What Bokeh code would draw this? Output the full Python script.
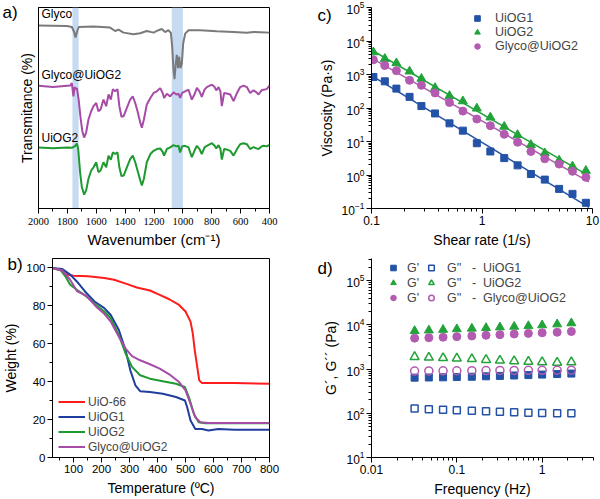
import numpy as np
from bokeh.plotting import figure
from bokeh.layouts import column, row
from bokeh.models import (Range1d, FixedTicker, BoxAnnotation, Label, Legend,
                          LegendItem, CustomJSTickFormatter, Title)
from bokeh.embed import file_html
from bokeh.resources import INLINE

FONT = "Liberation Sans"
NARROW = "Liberation Sans Narrow"

# ---------------- (a) FTIR spectra ----------------
glyco_wn = [2000, 1804, 1769, 1753, 1744, 1734, 1721, 1619, 1504, 1469, 1446, 1411,
            1342, 1296, 1250, 1203, 1169, 1146, 1123, 1100, 1083, 1074, 1065, 1058,
            1049, 1042, 1033, 1026, 1016, 1007, 998, 984, 961, 880, 765, 649, 557,
            511, 465, 400]
glyco_t = [91.1, 90.8, 90.3, 87.8, 85.1, 87.8, 90.3, 90.6, 90.0, 88.3, 89.0, 87.5,
           86.7, 87.2, 88.3, 87.5, 88.7, 89.3, 87.8, 88.7, 87.4, 80.5, 69.0, 64.4,
           72.2, 76.4, 69.8, 75.5, 69.8, 72.2, 82.1, 87.0, 88.7, 88.7, 88.2, 87.8,
           87.4, 87.8, 87.7, 87.5]

uiog2_wn = [2000, 1900, 1800, 1769, 1745, 1734, 1725, 1712, 1700, 1684, 1670, 1654,
            1635, 1619, 1600, 1585, 1570, 1550, 1531, 1515, 1499, 1485, 1469, 1453,
            1440, 1425, 1410, 1388, 1365, 1347, 1330, 1314, 1295, 1284, 1270, 1250,
            1225, 1203, 1180, 1157, 1140, 1130, 1111, 1088, 1065, 1045, 1030, 1019,
            1005, 985, 961, 938, 920, 903, 885, 869, 850, 834, 799, 780, 769, 753,
            740, 730, 714, 690, 672, 649, 625, 603, 580, 557, 534, 511, 490, 476,
            455, 441, 420, 400]
uiog2_t = [30.4, 30.0, 30.4, 30.2, 31.2, 32.3, 29.6, 18.1, 10.7, 6.9, 9.0, 14.8,
           18.9, 20.5, 23.0, 18.1, 18.9, 23.0, 20.5, 26.3, 24.3, 27.9, 27.1, 27.9,
           20.5, 16.1, 16.4, 20.5, 24.6, 26.3, 23.0, 18.9, 14.0, 11.5, 14.8, 23.0,
           27.1, 28.7, 29.6, 29.9, 28.2, 26.3, 29.6, 30.4, 31.5, 30.9, 31.2, 27.9,
           30.9, 31.2, 30.4, 25.5, 28.7, 31.2, 29.6, 27.1, 30.4, 31.2, 32.5, 31.2,
           29.9, 31.5, 29.6, 24.3, 29.6, 29.2, 28.7, 26.3, 29.6, 32.0, 32.5, 32.0,
           29.6, 30.5, 29.9, 29.6, 30.9, 31.2, 30.9, 31.7]

glyco_uiog2_wn = [2000, 1900, 1800, 1780, 1769, 1758, 1750, 1740, 1734, 1722, 1710,
                  1697, 1684, 1670, 1654, 1635, 1619, 1600, 1585, 1570, 1550, 1531,
                  1515, 1499, 1485, 1469, 1453, 1440, 1425, 1410, 1388, 1365, 1347,
                  1330, 1314, 1295, 1284, 1270, 1250, 1225, 1203, 1180, 1157, 1140,
                  1130, 1111, 1088, 1065, 1045, 1030, 1019, 1005, 985, 961, 938, 920,
                  903, 885, 869, 850, 834, 799, 780, 769, 753, 740, 730, 714, 690,
                  672, 649, 625, 603, 580, 557, 534, 511, 490, 476, 455, 441, 420, 400]
glyco_uiog2_t = [61.1, 60.4, 61.1, 61.2, 62.4, 55.8, 60.4, 59.4, 59.9, 54.2, 46.0,
                 38.6, 35.3, 37.8, 44.3, 48.4, 50.9, 52.5, 48.4, 49.3, 54.2, 50.9,
                 56.7, 54.2, 59.4, 58.3, 59.4, 50.9, 45.6, 46.0, 50.1, 54.2, 55.8,
                 52.5, 48.4, 42.7, 40.2, 44.3, 51.7, 55.0, 57.5, 58.3, 59.9, 57.5,
                 55.0, 57.1, 55.8, 57.8, 56.7, 57.1, 55.0, 57.5, 58.3, 59.1, 54.2, 56.7,
                 60.0, 58.3, 55.5, 59.1, 60.4, 61.6, 60.4, 58.8, 60.4, 58.3, 50.9, 57.5,
                 57.1, 56.7, 53.4, 57.5, 60.4, 61.1, 60.4, 57.5, 58.8, 57.8, 56.7, 58.8,
                 59.1, 59.4, 61.1]

highlight_bands = [(1765, 1722), (1077, 1000)]

# ---------------- (b) TGA ----------------
tga_uio66_T = [25, 54, 77, 100, 152, 210, 245, 292, 326, 373, 408, 442, 477, 500, 518,
               526, 533, 541, 549, 559, 675, 800]
tga_uio66_w = [100, 98.8, 96.5, 95.9, 95.6, 94.7, 93.8, 91.5, 89.7, 88.1, 85.8, 83.5,
               80.5, 77.0, 71.7, 65.5, 56.6, 48.7, 40.7, 39.3, 39.3, 38.9]
tga_uiog1_T = [25, 59, 88, 112, 141, 175, 210, 233, 262, 286, 303, 321, 338, 373, 419,
               466, 498, 506, 518, 535, 559, 582, 617, 675, 800]
tga_uiog1_w = [100, 99.5, 96.5, 92.9, 87.6, 82.3, 78.8, 75.2, 67.3, 56.6, 46.0, 38.1,
               35.0, 34.5, 33.6, 31.9, 30.1, 26.5, 19.5, 15.0, 15.0, 14.2, 15.0, 14.7,
               14.7]
tga_uiog2_T = [25, 54, 71, 88, 112, 146, 181, 210, 233, 262, 286, 309, 338, 373, 419,
               466, 498, 512, 530, 547, 570, 675, 800]
tga_uiog2_w = [100, 98.8, 95.6, 91.2, 88.5, 85.0, 80.5, 77.0, 73.5, 64.6, 54.9, 47.8,
               43.4, 41.6, 40.2, 38.9, 37.2, 31.9, 23.0, 18.6, 18.1, 18.1, 18.1]
tga_glyco_T = [25, 59, 88, 112, 146, 181, 210, 233, 262, 286, 309, 338, 373, 408, 442,
               477, 500, 518, 535, 553, 582, 800]
tga_glyco_w = [100, 98.8, 93.8, 87.8, 85.3, 79.6, 75.8, 71.7, 63.7, 57.5, 53.5, 51.3,
               49.2, 46.9, 43.9, 39.8, 35.4, 28.3, 21.2, 18.6, 18.2, 18.2]

# ---------------- (c) viscosity ----------------
shear_rate = [0.104, 0.132, 0.168, 0.221, 0.283, 0.376, 0.508, 0.671, 0.898, 1.19,
              1.59, 2.10, 2.77, 3.70, 4.99, 6.59, 8.71]
visc_uiog1 = [841, 625, 379, 215, 114, 68.8, 34.8, 21.1, 8.89, 5.03, 3.19, 1.94, 1.07,
              0.728, 0.385, 0.273, 0.148]
visc_uiog2 = [4630, 2940, 2185, 1238, 751, 397, 230, 160, 96.9, 52.4, 27.7, 15.7,
              7.93, 4.49, 2.72, 1.81, 1.34]
visc_glyco = [2750, 1866, 1297, 670, 476, 282, 146, 80.7, 46.8, 29.7, 16.4, 9.51,
              5.03, 3.05, 2.12, 1.29, 0.853]

# ---------------- (d) frequency sweep ----------------
freq = [0.032, 0.047, 0.069, 0.10, 0.15, 0.22, 0.32, 0.47, 0.69, 1.0, 1.5, 2.2]
gp_uiog1 = [640, 645, 650, 660, 670, 685, 700, 715, 730, 750, 770, 790]
gpp_uiog1 = [128, 124, 120, 117, 114, 111, 108, 105, 103, 101, 100, 100]
gp_uiog2 = [7280, 7500, 7750, 8000, 8250, 8500, 8800, 9100, 9400, 9800, 10300, 10900]
gpp_uiog2 = [1880, 1830, 1780, 1740, 1690, 1620, 1560, 1510, 1470, 1440, 1400, 1430]
gp_glyco = [5000, 5100, 5250, 5400, 5600, 5800, 6000, 6200, 6400, 6600, 6800, 7050]
gpp_glyco = [900, 905, 910, 915, 920, 925, 930, 930, 935, 935, 940, 945]

GRAY = "#7a7a7a"
PURPLE = "#a64ca6"
GREEN = "#1e9a30"
RED = "#ff1c1c"
DBLUE = "#1f3e9e"
BLUE = "#2352a6"
MGREEN = "#22a33a"
MPURPLE = "#b25bb0"
BAND = "#c6daf2"


def style(p, tick_size="12px", label_size="14px", box=True):
    p.grid.visible = False
    p.background_fill_color = "white"
    p.border_fill_color = "white"
    p.outline_line_color = "black" if box else None
    p.outline_line_width = 1
    for ax in list(p.xaxis) + list(p.yaxis):
        ax.axis_line_color = "black"
        ax.axis_line_width = 1
        ax.major_tick_line_color = "black"
        ax.minor_tick_line_color = "black"
        ax.major_tick_in = 0
        ax.major_tick_out = 5
        ax.minor_tick_in = 0
        ax.minor_tick_out = 3
        ax.major_label_text_font = FONT
        ax.major_label_text_font_size = tick_size
        ax.major_label_text_color = "black"
        ax.major_label_standoff = 2
        ax.axis_label_text_font = FONT
        ax.axis_label_text_font_size = label_size
        ax.axis_label_text_font_style = "normal"
        ax.axis_label_text_color = "black"
        ax.axis_label_standoff = 4


def log_ticker(lo_exp, hi_exp):
    majors = [10.0 ** e for e in range(lo_exp, hi_exp + 1)]
    minors = [m * 10.0 ** e for e in range(lo_exp - 1, hi_exp + 1) for m in range(2, 10)]
    return FixedTicker(ticks=majors, minor_ticks=minors)


def legend(items, location, gw, gh, standoff, size="12px"):
    return Legend(items=items, location=location, padding=0, margin=0, spacing=0,
                  glyph_width=gw, glyph_height=gh, label_height=gh,
                  label_standoff=standoff, label_text_font=FONT,
                  label_text_font_size=size, border_line_color=None,
                  background_fill_alpha=0)


def panel_letter(p, text, offset, standoff):
    # panel letter as a left-aligned title pulled down beside the frame's top-left
    p.add_layout(Title(text=text, align="left", vertical_align="bottom", offset=offset,
                       standoff=standoff, text_font=FONT, text_font_size="17px",
                       text_font_style="normal", text_color="black"), "above")


# ---- panel a ----
pa = figure(width=300, height=250, x_range=Range1d(2000, 400), y_range=Range1d(0, 100),
            output_backend="svg", toolbar_location=None, title=None,
            min_border_left=38, min_border_right=31, min_border_top=7,
            min_border_bottom=40)
for lo, hi in highlight_bands:
    pa.add_layout(BoxAnnotation(left=lo, right=hi, fill_color=BAND, fill_alpha=1,
                                line_color=None, level="underlay"))
pa.line(glyco_wn, glyco_t, line_color=GRAY, line_width=2)
pa.line(glyco_uiog2_wn, glyco_uiog2_t, line_color=PURPLE, line_width=2)
pa.line(uiog2_wn, uiog2_t, line_color=GREEN, line_width=2)
style(pa, tick_size="10.5px", label_size="15px")
pa.xaxis.major_label_text_font = NARROW
pa.xaxis.major_label_standoff = 4
pa.xaxis.axis_label_standoff = 3
pa.yaxis.axis_label_text_font_size = "14px"
pa.xaxis.ticker = FixedTicker(ticks=list(range(400, 2001, 200)),
                              minor_ticks=list(range(500, 2000, 200)))
pa.yaxis.ticker = FixedTicker(ticks=[])
pa.xaxis.axis_label = "Wavenumber (cm\u207b\u00b9)"
pa.yaxis.axis_label = "Transmitance (%)"
for txt, yv in [("Glyco", 93.1), ("Glyco@UiOG2", 63.1), ("UiOG2", 31.5)]:
    pa.add_layout(Label(x=1979, y=yv, text=txt, text_font=FONT, text_font_size="12px",
                        text_color="black"))
panel_letter(pa, "a)", -36, -29)

# ---- panel b ----
pb = figure(width=300, height=249, x_range=Range1d(25, 800), y_range=Range1d(0, 105),
            output_backend="svg", toolbar_location=None, title=None,
            min_border_left=47, min_border_right=31, min_border_top=8,
            min_border_bottom=42)
rb1 = pb.line(tga_uio66_T, tga_uio66_w, line_color=RED, line_width=2)
rb2 = pb.line(tga_uiog1_T, tga_uiog1_w, line_color=DBLUE, line_width=2)
rb3 = pb.line(tga_uiog2_T, tga_uiog2_w, line_color=GREEN, line_width=2)
rb4 = pb.line(tga_glyco_T, tga_glyco_w, line_color=PURPLE, line_width=2)
style(pb, tick_size="11.5px")
pb.xaxis.ticker = FixedTicker(ticks=list(range(100, 801, 100)),
                              minor_ticks=list(range(50, 800, 100)))
pb.yaxis.ticker = FixedTicker(ticks=list(range(0, 101, 20)),
                              minor_ticks=list(range(10, 100, 20)))
pb.xaxis.axis_label = "Temperature (\u00baC)"
pb.yaxis.axis_label = "Weight (%)"
pb.add_layout(legend([LegendItem(label="UiO-66", renderers=[rb1]),
                      LegendItem(label="UiOG1", renderers=[rb2]),
                      LegendItem(label="UiOG2", renderers=[rb3]),
                      LegendItem(label="Glyco@UiOG2", renderers=[rb4])],
                     (6, 3), 27, 15, 3))
panel_letter(pb, "b)", -45, -31)

# ---- panel c ----
pc = figure(width=300, height=250, x_axis_type="log", y_axis_type="log",
            x_range=Range1d(0.1, 10), y_range=Range1d(0.1, 1e5),
            output_backend="svg", toolbar_location=None, title=None,
            min_border_left=71, min_border_right=8, min_border_top=7,
            min_border_bottom=39)
fit_x = np.array([0.1, 9.3])
lsr = np.log10(shear_rate)
for vals, col in [(visc_uiog1, BLUE), (visc_uiog2, MGREEN), (visc_glyco, MPURPLE)]:
    k, b = np.polyfit(lsr, np.log10(vals), 1)
    pc.line(fit_x, 10 ** (k * np.log10(fit_x) + b), line_color=col, line_width=1.5)
rc1 = pc.scatter(shear_rate, visc_uiog1, marker="square", size=7, fill_color=BLUE,
                 line_color=BLUE)
rc2 = pc.scatter(shear_rate, visc_uiog2, marker="triangle", size=9, fill_color=MGREEN,
                 line_color=MGREEN)
rc3 = pc.scatter(shear_rate, visc_glyco, marker="circle", size=8, fill_color=MPURPLE,
                 line_color=MPURPLE)
style(pc, tick_size="12px", box=False)
dec_fmt = CustomJSTickFormatter(code="return Number(tick.toPrecision(3)).toString();")
pc.xaxis.ticker = log_ticker(-1, 1)
pc.yaxis.ticker = log_ticker(-1, 5)
pc.xaxis.formatter = dec_fmt
pc.xaxis.axis_label = "Shear rate (1/s)"
pc.yaxis.axis_label = "Viscosity (Pa\u00b7s)"
pc.add_layout(legend([LegendItem(label="UiOG1", renderers=[rc1]),
                      LegendItem(label="UiOG2", renderers=[rc2]),
                      LegendItem(label="Glyco@UiOG2", renderers=[rc3])],
                     (99, 155), 14, 14, 11, "12.5px"))
panel_letter(pc, "c)", -54, -35)

# ---- panel d ----
pd_ = figure(width=300, height=249, x_axis_type="log", y_axis_type="log",
             x_range=Range1d(0.01, 4), y_range=Range1d(10, 10 ** 5.5),
             output_backend="svg", toolbar_location=None, title=None,
             min_border_left=71, min_border_right=7, min_border_top=7,
             min_border_bottom=40)
rd = []
for gp, gpp, mk, col, sz in [(gp_uiog1, gpp_uiog1, "square", BLUE, 7),
                              (gp_uiog2, gpp_uiog2, "triangle", MGREEN, 9),
                              (gp_glyco, gpp_glyco, "circle", MPURPLE, 8)]:
    filled = pd_.scatter(freq, gp, marker=mk, size=sz, fill_color=col, line_color=col)
    hollow = pd_.scatter(freq, gpp, marker=mk, size=sz, fill_color=None, line_color=col,
                         line_width=1.5)
    rd.append((filled, hollow))
style(pd_, tick_size="12px", box=False)
pd_.xaxis.ticker = log_ticker(-2, 0)
pd_.yaxis.ticker = log_ticker(1, 5)
pd_.xaxis.formatter = dec_fmt
pd_.xaxis.axis_label = "Frequency (Hz)"
pd_.yaxis.axis_label = "G\u00b4, G\u00b4\u00b4 (Pa)"
names = ["UiOG1", "UiOG2", "Glyco@UiOG2"]
nb = "\u00a0"
pd_.add_layout(legend([LegendItem(label="G'", renderers=[f]) for f, _ in rd],
                      (15, 152), 14, 15, 7, "12.5px"))
pd_.add_layout(legend([LegendItem(label="G''" + nb * 3 + "-" + nb * 2 + n,
                                  renderers=[h]) for (_, h), n in zip(rd, names)],
                      (53, 152), 14, 15, 9, "12.5px"))
panel_letter(pd_, "d)", -54, -38)

layout = column(row(pa, pc, spacing=0), row(pb, pd_, spacing=0), spacing=0)
open("out.html", "w").write(file_html(layout, INLINE))
